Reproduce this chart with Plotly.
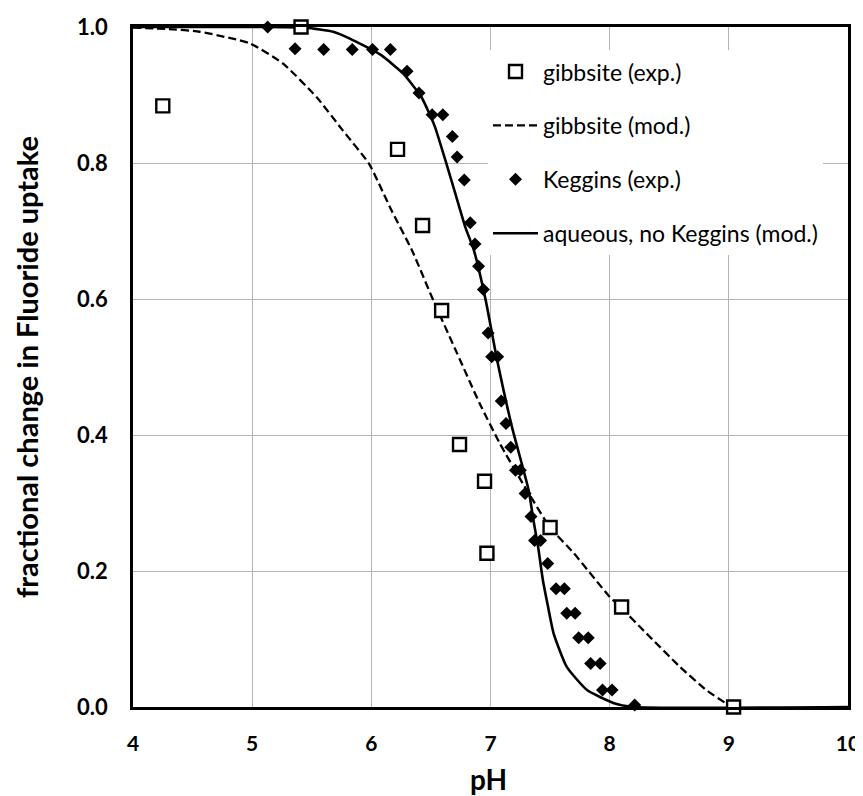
import plotly.graph_objects as go

# gibbsite experimental
gib_exp_ph = [4.25, 5.41, 6.22, 6.43, 6.59, 6.74, 6.95, 6.97, 7.50, 8.10, 9.04]
gib_exp_y = [0.884, 1.0, 0.820, 0.708, 0.583, 0.386, 0.332, 0.226, 0.264, 0.147, 0.0]

# gibbsite model (dashed)
gib_mod_ph = [4.0, 4.3, 4.56, 4.98, 5.26, 5.54, 5.76, 5.98, 6.17, 6.34, 6.52, 6.72, 6.91,
              7.08, 7.27, 7.50, 7.70, 8.0, 8.09, 8.31, 8.59, 8.81, 8.98, 9.03]
gib_mod_y = [0.999, 0.997, 0.993, 0.976, 0.946, 0.897, 0.848, 0.799, 0.730, 0.672, 0.598,
             0.520, 0.446, 0.387, 0.329, 0.264, 0.226, 0.162, 0.147, 0.108, 0.059, 0.025,
             0.005, 0.0]

# Keggins experimental
keg_ph = [5.13, 5.36, 5.60, 5.84, 6.01, 6.16, 6.30, 6.40, 6.51, 6.60, 6.68, 6.72, 6.78,
          6.83, 6.87, 6.90, 6.94, 6.98, 7.01, 7.06, 7.09, 7.13, 7.17, 7.21, 7.25, 7.29,
          7.34, 7.37, 7.42, 7.48, 7.55, 7.62, 7.64, 7.71, 7.74, 7.82, 7.84, 7.92, 7.94,
          8.02, 8.21]
keg_y = [1.0, 0.968, 0.967, 0.967, 0.967, 0.967, 0.935, 0.903, 0.871, 0.871, 0.839, 0.809,
         0.775, 0.712, 0.681, 0.648, 0.614, 0.550, 0.515, 0.515, 0.450, 0.417, 0.382, 0.348,
         0.348, 0.314, 0.280, 0.245, 0.245, 0.211, 0.174, 0.174, 0.138, 0.138, 0.102, 0.102,
         0.064, 0.064, 0.025, 0.025, 0.003]

# aqueous, no Keggins model (solid)
aq_ph = [4.0, 5.0, 5.45, 5.68, 5.82, 6.07, 6.18, 6.27, 6.42, 6.53, 6.63, 6.71, 6.79, 6.86,
         6.96, 7.05, 7.18, 7.32, 7.36, 7.40, 7.44, 7.48, 7.53, 7.64, 7.81, 8.03, 8.2, 10.0]
aq_y = [1.0, 1.0, 0.999, 0.993, 0.983, 0.960, 0.945, 0.931, 0.897, 0.855, 0.799, 0.752,
        0.705, 0.672, 0.598, 0.515, 0.412, 0.319, 0.275, 0.235, 0.186, 0.150, 0.108, 0.059,
        0.025, 0.006, 0.0, 0.0]

x_ticks = [4, 5, 6, 7, 8, 9, 10]
x_tick_labels = ["4", "5", "6", "7", "8", "9", "10"]
y_ticks = [0.0, 0.2, 0.4, 0.6, 0.8, 1.0]

FONT = "Lato"

fig = go.Figure()
fig.add_trace(go.Scatter(x=gib_mod_ph, y=gib_mod_y, mode="lines", name="gibbsite (mod.)",
                         line=dict(color="black", width=2.3, dash="8px,4px",
                                   shape="spline", smoothing=0.5),
                         legendrank=2, legendgroup="b", cliponaxis=False))
fig.add_trace(go.Scatter(x=aq_ph, y=aq_y, mode="lines", name="aqueous, no Keggins (mod.)",
                         line=dict(color="black", width=2.6, shape="spline", smoothing=0.5),
                         legendrank=4, legendgroup="d", cliponaxis=False))
fig.add_trace(go.Scatter(x=keg_ph, y=keg_y, mode="markers", name="Keggins (exp.)",
                         marker=dict(symbol="diamond", size=10, color="black",
                                     line=dict(width=0)),
                         legendrank=3, legendgroup="c", cliponaxis=False))
fig.add_trace(go.Scatter(x=gib_exp_ph, y=gib_exp_y, mode="markers", name="gibbsite (exp.)",
                         marker=dict(symbol="square", size=13, color="white",
                                     line=dict(color="black", width=2.4)),
                         legendrank=1, legendgroup="a", cliponaxis=False))

fig.update_layout(
    width=863, height=788,
    margin=dict(l=125, r=23, t=19, b=89, autoexpand=False),
    paper_bgcolor="white", plot_bgcolor="white",
    font=dict(family=FONT, color="black"),
    showlegend=True,
    legend=dict(x=0.4965, y=0.966, xanchor="left", yanchor="top",
                bgcolor="white", borderwidth=0, font=dict(size=23, family=FONT),
                tracegroupgap=21, itemwidth=45, traceorder="grouped"),
    xaxis=dict(range=[4, 10], tickvals=x_ticks, ticktext=x_tick_labels,
               automargin=True, ticklabeloverflow="allow",
               showgrid=True, gridcolor="#b3b3b3", gridwidth=1, zeroline=False,
               showline=True, linecolor="black", linewidth=2.5, mirror=True,
               ticks="", ticklabelstandoff=16,
               tickfont=dict(size=21, family=FONT, weight="bold")),
    yaxis=dict(range=[0, 1], tickvals=y_ticks, ticktext=[f"{v:.1f}" for v in y_ticks],
               automargin=True, ticklabeloverflow="allow",
               showgrid=True, gridcolor="#b3b3b3", gridwidth=1, zeroline=False,
               showline=True, linecolor="black", linewidth=2.5, mirror=True,
               ticks="", ticklabelstandoff=18,
               tickfont=dict(size=22, family=FONT, weight="bold"),
               title=dict(text="fractional change in Fluoride uptake",
                          font=dict(size=29, family=FONT, weight="bold"), standoff=30)),
    annotations=[dict(text="pH", xref="paper", yref="paper", x=0.497, y=0,
                      xanchor="center", yanchor="middle", yshift=-72, showarrow=False,
                      font=dict(size=28, family=FONT, weight="bold"))],
)

fig.write_html("out.html")
